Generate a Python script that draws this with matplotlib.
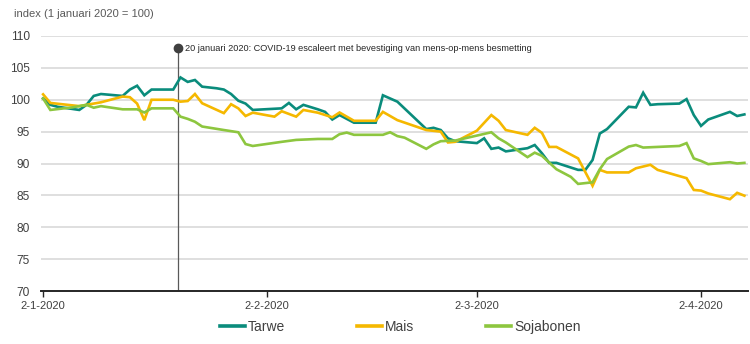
import matplotlib
matplotlib.use("Agg")
import matplotlib.pyplot as plt
import matplotlib.dates as mdates
from matplotlib import font_manager
import pandas as pd

# ---------------- data ----------------
tarwe_dates = ["2020-01-02", "2020-01-03", "2020-01-04", "2020-01-07", "2020-01-08", "2020-01-09",
               "2020-01-10", "2020-01-13", "2020-01-14", "2020-01-15", "2020-01-16", "2020-01-17",
               "2020-01-20", "2020-01-21", "2020-01-22", "2020-01-23", "2020-01-24", "2020-01-26",
               "2020-01-27", "2020-01-28", "2020-01-29", "2020-01-30", "2020-01-31", "2020-02-04",
               "2020-02-05", "2020-02-06", "2020-02-07", "2020-02-09", "2020-02-10", "2020-02-11",
               "2020-02-12", "2020-02-14", "2020-02-17", "2020-02-18", "2020-02-20", "2020-02-24",
               "2020-02-25", "2020-02-26", "2020-02-27", "2020-02-28", "2020-03-02", "2020-03-03",
               "2020-03-04", "2020-03-05", "2020-03-06", "2020-03-09", "2020-03-10", "2020-03-11",
               "2020-03-12", "2020-03-13", "2020-03-16", "2020-03-17", "2020-03-18", "2020-03-19",
               "2020-03-20", "2020-03-23", "2020-03-24", "2020-03-25", "2020-03-26", "2020-03-27",
               "2020-03-30", "2020-03-31", "2020-04-01", "2020-04-02", "2020-04-03", "2020-04-06",
               "2020-04-07", "2020-04-08"]
tarwe = [100.2, 99.2, 98.9, 98.4, 99.2, 100.6,
         100.9, 100.6, 101.6, 102.2, 100.7, 101.6,
         101.6, 103.5, 102.8, 103.1, 102.05, 101.8,
         101.6, 100.9, 99.85, 99.4, 98.4, 98.65,
         99.5, 98.5, 99.2, 98.5, 98.1, 96.9,
         97.6, 96.4, 96.4, 100.7, 99.7, 95.4,
         95.6, 95.25, 93.95, 93.5, 93.2, 93.95,
         92.3, 92.5, 91.9, 92.4, 92.9, 91.6,
         90.1, 90.1, 89.0, 89.0, 90.55, 94.7,
         95.4, 98.9, 98.8, 101.1, 99.2, 99.3,
         99.4, 100.1, 97.6, 95.9, 96.9, 98.1,
         97.45, 97.7]

mais_dates = ["2020-01-02", "2020-01-03", "2020-01-07", "2020-01-08", "2020-01-10", "2020-01-13",
              "2020-01-14", "2020-01-15", "2020-01-16", "2020-01-17", "2020-01-20", "2020-01-21",
              "2020-01-22", "2020-01-23", "2020-01-24", "2020-01-27", "2020-01-28", "2020-01-29",
              "2020-01-30", "2020-01-31", "2020-02-03", "2020-02-04", "2020-02-06", "2020-02-07",
              "2020-02-09", "2020-02-11", "2020-02-12", "2020-02-14", "2020-02-17", "2020-02-18",
              "2020-02-20", "2020-02-24", "2020-02-26", "2020-02-27", "2020-02-28", "2020-03-02",
              "2020-03-04", "2020-03-05", "2020-03-06", "2020-03-09", "2020-03-10", "2020-03-11",
              "2020-03-12", "2020-03-13", "2020-03-16", "2020-03-18", "2020-03-19", "2020-03-20",
              "2020-03-23", "2020-03-24", "2020-03-26", "2020-03-27", "2020-03-31", "2020-04-01",
              "2020-04-02", "2020-04-03", "2020-04-06", "2020-04-07", "2020-04-08"]
mais = [100.85, 99.5, 99.0, 99.2, 99.6, 100.5,
        100.4, 99.4, 96.8, 100.0, 100.0, 99.7,
        99.8, 100.9, 99.45, 97.9, 99.3, 98.65,
        97.45, 97.97, 97.35, 98.2, 97.35, 98.4,
        97.97, 97.25, 98.0, 96.7, 96.7, 98.1,
        96.8, 95.25, 95.0, 93.3, 93.4, 95.15,
        97.6, 96.7, 95.25, 94.5, 95.6, 94.8,
        92.6, 92.6, 90.8, 86.5, 89.0, 88.6,
        88.6, 89.25, 89.8, 89.0, 87.7, 85.85,
        85.75, 85.3, 84.4, 85.4, 84.95]

soja_dates = ["2020-01-02", "2020-01-03", "2020-01-06", "2020-01-08", "2020-01-09", "2020-01-10",
              "2020-01-13", "2020-01-15", "2020-01-16", "2020-01-17", "2020-01-20", "2020-01-21",
              "2020-01-22", "2020-01-23", "2020-01-24", "2020-01-27", "2020-01-29", "2020-01-30",
              "2020-01-31", "2020-02-04", "2020-02-06", "2020-02-09", "2020-02-11", "2020-02-12",
              "2020-02-13", "2020-02-14", "2020-02-18", "2020-02-19", "2020-02-20", "2020-02-21",
              "2020-02-24", "2020-02-25", "2020-02-26", "2020-02-28", "2020-03-04", "2020-03-05",
              "2020-03-06", "2020-03-09", "2020-03-10", "2020-03-11", "2020-03-13", "2020-03-15",
              "2020-03-16", "2020-03-18", "2020-03-19", "2020-03-20", "2020-03-23", "2020-03-24",
              "2020-03-25", "2020-03-30", "2020-03-31", "2020-04-01", "2020-04-02", "2020-04-03",
              "2020-04-06", "2020-04-07", "2020-04-08"]
soja = [100.2, 98.4, 98.8, 99.2, 98.75, 99.0,
        98.5, 98.5, 98.0, 98.65, 98.65, 97.35,
        97.0, 96.55, 95.8, 95.25, 94.9, 93.05,
        92.75, 93.4, 93.7, 93.85, 93.85, 94.6,
        94.85, 94.5, 94.5, 94.9, 94.3, 94.05,
        92.3, 93.0, 93.5, 93.6, 94.9, 93.95,
        93.3, 91.0, 91.7, 91.2, 89.1, 87.9,
        86.8, 87.05, 89.1, 90.7, 92.65, 92.9,
        92.5, 92.75, 93.2, 90.8, 90.4, 89.9,
        90.2, 90.0, 90.1]

series_names = ["Tarwe", "Mais", "Sojabonen"]
y_ticks = [70, 75, 80, 85, 90, 95, 100, 105, 110]
x_tick_dates = ["2020-01-02", "2020-02-02", "2020-03-02", "2020-04-02"]
x_tick_labels = ["2-1-2020", "2-2-2020", "2-3-2020", "2-4-2020"]
event_date = "2020-01-20 17:00"
event_value = 108.1
event_text = "20 januari 2020: COVID-19 escaleert met bevestiging van mens-op-mens besmetting"
y_title = "index (1 januari 2020 = 100)"

# ---------------- style ----------------
colors = ["#0a8c7c", "#f5b800", "#8dc63f"]
names = {f.name for f in font_manager.fontManager.ttflist}
narrow = "Liberation Sans Narrow" in names
base_font = "Liberation Sans"
cond_font = "Liberation Sans Narrow" if narrow else base_font
plt.rcParams["font.family"] = [base_font, "DejaVu Sans"]

fig = plt.figure(figsize=(7.5, 3.44), dpi=100)
ax = fig.add_axes([41 / 750, 1 - 291 / 344, (748 - 41) / 750, (291 - 36) / 344])

all_dates = [tarwe_dates, mais_dates, soja_dates]
all_vals = [tarwe, mais, soja]
lines = []
for d, v, c, n in zip(all_dates, all_vals, colors, series_names):
    ln, = ax.plot(pd.to_datetime(d), v, color=c, lw=1.9, label=n, solid_joinstyle="miter",
                  zorder=3)
    lines.append(ln)

ax.set_ylim(70, 110)
ax.set_xlim(pd.Timestamp("2020-01-02") - pd.Timedelta(hours=7), pd.Timestamp("2020-04-08 12:00"))
ax.set_yticks(y_ticks)
ax.grid(axis="y", color="#d9d9d9", lw=1.2, zorder=0)
ax.set_xticks(pd.to_datetime(x_tick_dates))
ax.set_xticklabels(x_tick_labels)

for s in ["top", "right", "left"]:
    ax.spines[s].set_visible(False)
ax.spines["bottom"].set_color("#262626")
ax.spines["bottom"].set_linewidth(1.4)
ax.spines["bottom"].set_zorder(4)
ax.tick_params(axis="y", length=0, pad=8, labelsize=8.6, labelcolor="#404040")
ax.tick_params(axis="x", length=4, width=1, color="#262626", pad=3, labelsize=8.5 if narrow else 8,
               labelcolor="#404040")
for lab in ax.get_xticklabels():
    lab.set_fontfamily([cond_font, "DejaVu Sans"])

# annotation
ev = pd.Timestamp(event_date)
ax.plot([ev, ev], [70, event_value], color="#595959", lw=0.9, zorder=2)
ax.plot([ev], [event_value], marker="o", ms=6, color="#404040", zorder=5, clip_on=False)
ax.annotate(event_text, xy=(ev, event_value), xytext=(5, 0), textcoords="offset points",
            va="center", ha="left", fontsize=8 if narrow else 6.6, color="#262626",
            family=[cond_font, "DejaVu Sans"])

fig.text(14 / 750, 1 - 14 / 344, y_title, ha="left", va="center", fontsize=8, color="#595959")

leg = fig.legend(handles=lines, labels=series_names, loc="center",
                 bbox_to_anchor=(400 / 750, 1 - 327 / 344), ncol=3, frameon=False,
                 handlelength=1.8, handletextpad=0.2, columnspacing=5.2,
                 prop={"family": [cond_font, "DejaVu Sans"], "size": 11 if narrow else 10})
for t in leg.get_texts():
    t.set_color("#404040")
for h in leg.get_lines():
    h.set_linewidth(2.6)

fig.savefig("out.png", dpi=100, facecolor="white")
